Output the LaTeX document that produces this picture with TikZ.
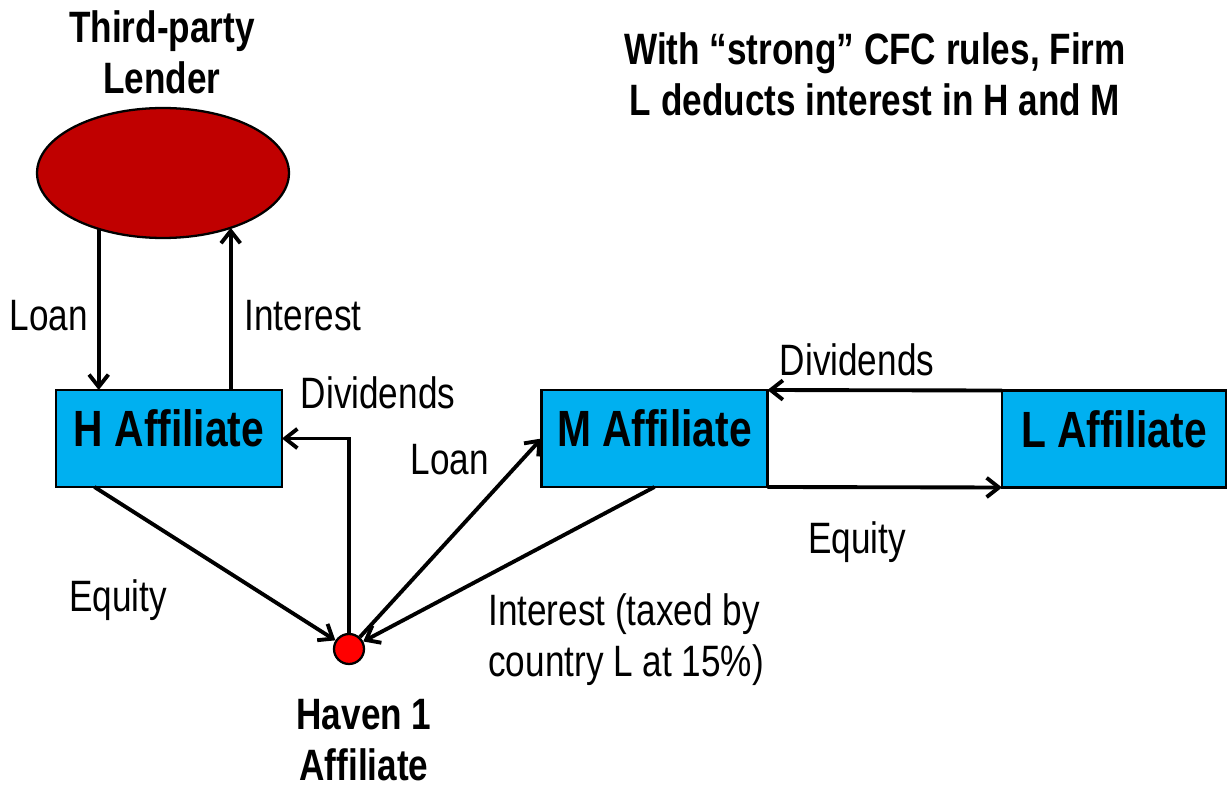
\documentclass[tikz,border=0pt]{standalone}
\usepackage{fontspec}
\setmainfont[FakeStretch=0.8]{Liberation Sans}
\usetikzlibrary{shapes.geometric,arrows.meta,calc}
\definecolor{lenderred}{HTML}{C00000}
\definecolor{firmblue}{HTML}{00B0F0}

\begin{document}
\begin{tikzpicture}[x = 0.02cm, y = -0.02cm, >= {Straight Barb[length=7pt,width=11pt]},
    flow/.style = {->, line width=2.2pt},
    firm/.style = {draw, line width=1.3pt, fill=firmblue, minimum width=4.52cm, minimum height=1.94cm,
      inner sep=0pt, outer sep=0pt, text depth=0.4cm, font=\fontsize{29}{34}\selectfont\bfseries},
    lbl/.style = {font=\fontsize{25}{29}\selectfont, inner sep=0pt},
    head/.style = {font=\fontsize{25}{29}\selectfont\bfseries, align=center, inner sep=0pt}]
      \useasboundingbox (0, 0) rectangle (1227, 790);
      % entities
      \node[ellipse, draw, line width=1.3pt, fill=lenderred, minimum width=5.04cm, minimum height=2.6cm,
        inner sep=0pt, outer sep=0pt] (lender) at (163, 173) {};
      \node[firm] (H) at (169, 438.5) {H Affiliate};
      \node[firm] (M) at (654.5, 438.5) {M Affiliate};
      \node[firm, minimum width=4.48cm] (L) at (1114, 439) {L Affiliate};
      \node[circle, draw, line width=1.3pt, fill=red, minimum size=0.6cm, inner sep=0pt] (haven) at (349, 649) {};
      % headings
      \node[head] (lenderlbl) at (162, 52) {Third-party\\Lender};
      \node[head] (havenlbl) at (364, 740) {Haven 1\\Affiliate};
      \node[head] (title) at (875, 74) {With “strong” CFC rules, Firm\\L deducts interest in H and M};
      % flows
      \draw[flow] (lender.221.6) -- (H.north -| lender.221.6);
      \draw[flow] (H.north -| lender.321.8) -- (lender.321.8);
      \draw[flow] ($(H.south west)!0.17!(H.south east)$) -- (haven);
      \draw[flow] (haven.north) |- (H.east);
      \draw[flow] (haven) -- (M.west);
      \draw[flow] (M.south) -- (haven);
      \draw[flow] (L.north west) -- (M.north east);
      \draw[flow] (M.south east) -- (L.south west);
      % labels
      \node[lbl] (loanH) at (49, 316) {Loan};
      \node[lbl] (intH) at (303, 316) {Interest};
      \node[lbl] (divH) at (378, 393) {Dividends};
      \node[lbl] (eqH) at (118, 600) {Equity};
      \node[lbl] (loanM) at (450, 460) {Loan};
      \node[lbl, align=left, anchor=west] (intM) at (488, 640) {Interest (taxed by\\country L at 15\%)};
      \node[lbl] (divL) at (857, 360) {Dividends};
      \node[lbl] (eqL) at (857, 542) {Equity};
    \end{tikzpicture}
\end{document}
